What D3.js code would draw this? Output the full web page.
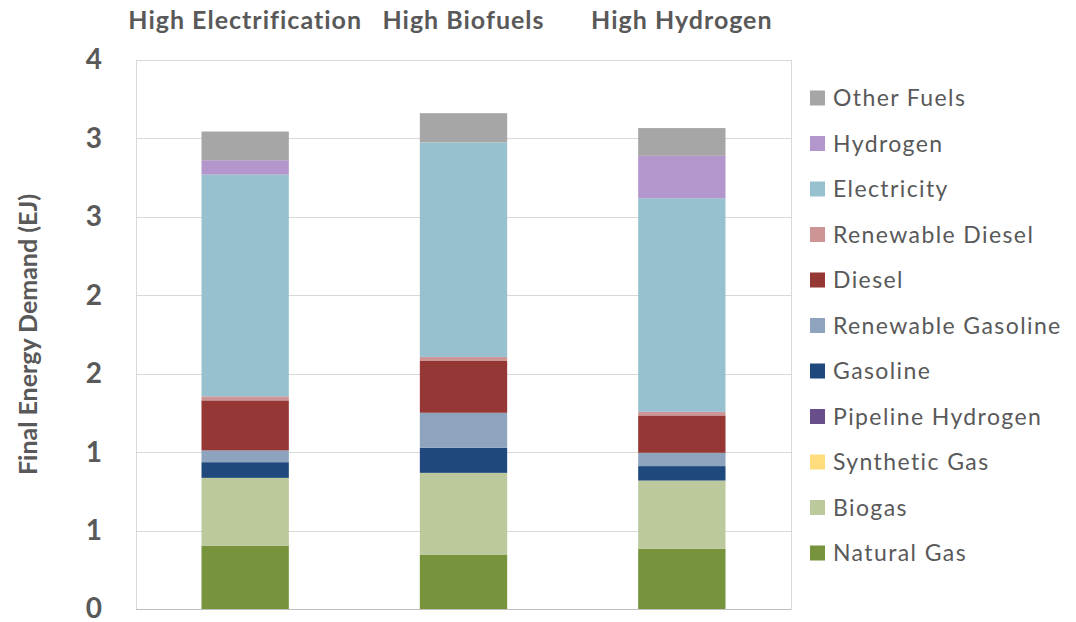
<!DOCTYPE html>
<html>
<head>
<meta charset="utf-8">
<script src="https://cdn.jsdelivr.net/npm/d3@7"></script>
<style>
  html, body { margin: 0; padding: 0; background: #fff; }
  svg { display: block; }
  text { font-family: Lato, "Open Sans", sans-serif; }
</style>
</head>
<body>
<svg id="chart" width="1076" height="622"></svg>
<script>
// ---- data ----
const scenarios = ["High Electrification", "High Biofuels", "High Hydrogen"];
const fuels = ["Natural Gas", "Biogas", "Synthetic Gas", "Pipeline Hydrogen", "Gasoline",
  "Renewable Gasoline", "Diesel", "Renewable Diesel", "Electricity", "Hydrogen", "Other Fuels"];
const fuelColors = ["#77933C", "#BBC99C", "#FFDD7F", "#684E8A", "#1F497D",
  "#8DA3BE", "#953735", "#CD9595", "#98C1CF", "#B396CC", "#A6A6A6"];
// values in EJ, per scenario (same order as scenarios)
const naturalGas        = [0.404, 0.347, 0.385];
const biogas            = [0.432, 0.521, 0.434];
const syntheticGas      = [0, 0, 0];
const pipelineHydrogen  = [0, 0, 0];
const gasoline          = [0.100, 0.160, 0.092];
const renewableGasoline = [0.075, 0.223, 0.085];
const diesel            = [0.319, 0.330, 0.238];
const renewableDiesel   = [0.026, 0.026, 0.023];
const electricity       = [1.413, 1.368, 1.362];
const hydrogen          = [0.092, 0, 0.270];
const otherFuels        = [0.183, 0.186, 0.177];
const tickValues = [0, 0.5, 1, 1.5, 2, 2.5, 3, 3.5];
const tickLabels = ["0", "1", "1", "2", "2", "3", "3", "4"];
const yTitle = "Final Energy Demand (EJ)";

const seriesValues = [naturalGas, biogas, syntheticGas, pipelineHydrogen, gasoline,
  renewableGasoline, diesel, renewableDiesel, electricity, hydrogen, otherFuels];

// ---- build table ----
const rows = scenarios.map((s, i) => {
  const r = { scenario: s };
  fuels.forEach((f, j) => { r[f] = seriesValues[j][i]; });
  return r;
});
const stacked = d3.stack().keys(fuels)(rows);

// ---- layout ----
const svg = d3.select("#chart");
const plot = { left: 136, right: 791, top: 60, bottom: 609 };

const x = d3.scaleBand().domain(scenarios)
  .range([plot.left, plot.right]).paddingInner(0.6).paddingOuter(0.3);
const y = d3.scaleLinear().domain([0, 3.5]).range([plot.bottom, plot.top]);
const color = d3.scaleOrdinal().domain(fuels).range(fuelColors);

// gridlines
svg.append("g").selectAll("line").data(tickValues.slice(1)).join("line")
  .attr("x1", plot.left).attr("x2", plot.right)
  .attr("y1", d => Math.round(y(d)) + 0.5).attr("y2", d => Math.round(y(d)) + 0.5)
  .attr("stroke", "#D9D9D9").attr("stroke-width", 1);

// plot border
svg.append("rect")
  .attr("x", plot.left + 0.5).attr("y", Math.round(y(3.5)) + 0.5)
  .attr("width", plot.right - plot.left).attr("height", Math.round(y(0)) - Math.round(y(3.5)))
  .attr("fill", "none").attr("stroke", "#D9D9D9");

// bars
svg.append("g").selectAll("g").data(stacked).join("g")
  .attr("fill", d => color(d.key))
  .selectAll("rect").data(d => d).join("rect")
  .attr("x", d => x(d.data.scenario))
  .attr("width", x.bandwidth())
  .attr("y", d => y(d[1]))
  .attr("height", d => Math.max(0, y(d[0]) - y(d[1])));

// bottom axis line
svg.append("line")
  .attr("x1", plot.left).attr("x2", plot.right)
  .attr("y1", Math.round(y(0)) + 0.5).attr("y2", Math.round(y(0)) + 0.5)
  .attr("stroke", "#BFBFBF");

// y axis labels
const yAxis = d3.axisLeft(y).tickValues(tickValues)
  .tickFormat((d, i) => tickLabels[i]).tickSize(0).tickPadding(0);
const yg = svg.append("g").attr("transform", `translate(102,0)`).call(yAxis);
yg.select(".domain").remove();
yg.selectAll("text")
  .attr("fill", "#595959").attr("font-size", 28).attr("font-weight", "bold")
  .attr("font-family", "Lato, 'Open Sans', sans-serif")
  .attr("dy", "0.32em");

// y axis title
svg.append("text")
  .attr("transform", `translate(37,${(plot.top + plot.bottom) / 2}) rotate(-90)`)
  .attr("text-anchor", "middle")
  .attr("fill", "#595959").attr("font-size", 25).attr("font-weight", "bold")
  .text(yTitle);

// category labels on top
const xAxis = d3.axisTop(x).tickSize(0).tickPadding(0);
const xg = svg.append("g").attr("transform", `translate(0,29)`).call(xAxis);
xg.select(".domain").remove();
xg.selectAll("text")
  .attr("fill", "#595959").attr("font-size", 25).attr("font-weight", "bold")
  .attr("font-family", "Lato, 'Open Sans', sans-serif")
  .attr("letter-spacing", 1)
  .attr("dy", "0");

// legend (reverse order, top = Other Fuels)
const legendItems = fuels.slice().reverse();
const lg = svg.append("g").selectAll("g").data(legendItems).join("g")
  .attr("transform", (d, i) => `translate(810,${98 + i * 45.5})`);
lg.append("rect").attr("x", 0).attr("y", -7.5).attr("width", 15).attr("height", 15)
  .attr("fill", d => color(d));
lg.append("text").attr("x", 23).attr("y", 0).attr("dy", "0.36em")
  .attr("fill", "#595959").attr("font-size", 23).attr("letter-spacing", 1.4)
  .text(d => d);
</script>
</body>
</html>
